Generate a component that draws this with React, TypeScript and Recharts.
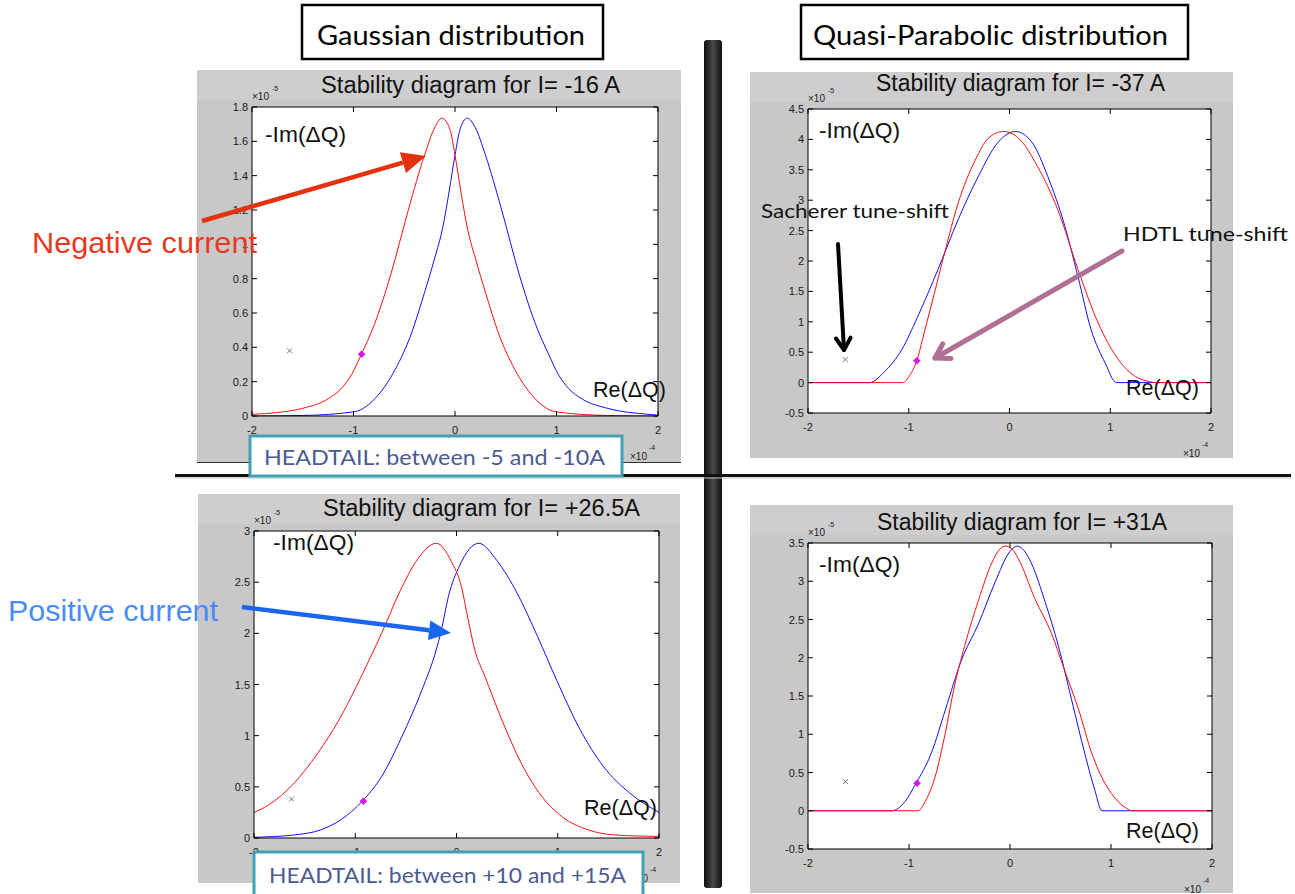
import React from 'react';
import {
  ComposedChart,
  Line,
  Scatter,
  XAxis,
  YAxis,
  CartesianGrid,
} from 'recharts';

// ---- data (Re in 1e-4, -Im in 1e-5) ----
const xTicks = [-2, -1, 0, 1, 2];

// Gaussian, I = -16 A
const g1RedX = [-2, -1.75, -1.5, -1.25, -1.12, -1.02, -0.93, -0.79, -0.63, -0.46, -0.3, -0.2, -0.13, -0.05, 0, 0.06, 0.12, 0.2, 0.3, 0.43, 0.59, 0.76, 0.99, 1.5, 2];
const g1RedY = [0.01, 0.02, 0.045, 0.1, 0.16, 0.24, 0.35, 0.54, 0.83, 1.2, 1.52, 1.68, 1.735, 1.67, 1.52, 1.3, 1.1, 0.92, 0.72, 0.48, 0.27, 0.12, 0.025, 0.003, 0];
const g1BlueX = [-2, -1.5, -0.99, -0.76, -0.59, -0.43, -0.3, -0.2, -0.12, -0.06, 0, 0.05, 0.12, 0.2, 0.3, 0.46, 0.63, 0.79, 0.93, 1.02, 1.12, 1.25, 1.5, 1.9, 2];
const g1BlueY = [0, 0.003, 0.025, 0.12, 0.27, 0.48, 0.72, 0.92, 1.1, 1.3, 1.52, 1.67, 1.735, 1.68, 1.52, 1.2, 0.83, 0.54, 0.35, 0.24, 0.16, 0.1, 0.045, 0.01, 0.005];
const g1YTicks = [0, 0.2, 0.4, 0.6, 0.8, 1, 1.2, 1.4, 1.6, 1.8];

// Quasi-parabolic, I = -37 A
const q1RedX = [-2, -1.06, -0.99, -0.92, -0.85, -0.77, -0.64, -0.51, -0.34, -0.21, -0.06, 0.09, 0.28, 0.48, 0.68, 0.88, 1.08, 1.25, 1.38, 1.45, 2];
const q1RedY = [0, 0, 0.12, 0.36, 0.8, 1.31, 2.16, 2.95, 3.66, 4.02, 4.13, 4.02, 3.55, 2.84, 1.86, 0.98, 0.38, 0.1, 0.02, 0, 0];
const q1BlueX = [-2, -1.39, -1.24, -1.07, -0.91, -0.71, -0.51, -0.31, -0.11, 0.06, 0.22, 0.38, 0.55, 0.68, 0.81, 0.95, 1.06, 2];
const q1BlueY = [0, 0, 0.18, 0.54, 1.09, 1.86, 2.68, 3.39, 3.96, 4.13, 3.96, 3.39, 2.57, 1.74, 0.87, 0.32, 0, 0];
const q1YTicks = [-0.5, 0, 0.5, 1, 1.5, 2, 2.5, 3, 3.5, 4, 4.5];

// Gaussian, I = +26.5 A
const g2RedX = [-2, -1.86, -1.6, -1.37, -1.14, -0.94, -0.74, -0.54, -0.38, -0.2, -0.05, 0.05, 0.11, 0.18, 0.28, 0.45, 0.64, 0.84, 1.04, 1.3, 1.56, 2];
const g2RedY = [0.25, 0.32, 0.54, 0.83, 1.19, 1.58, 2.0, 2.45, 2.73, 2.88, 2.7, 2.45, 2.16, 1.84, 1.58, 1.15, 0.73, 0.41, 0.21, 0.08, 0.03, 0.015];
const g2BlueX = [-2, -1.6, -1.34, -1.14, -0.93, -0.74, -0.54, -0.34, -0.2, -0.15, -0.08, 0.03, 0.22, 0.4, 0.6, 0.8, 0.99, 1.22, 1.45, 1.71, 2];
const g2BlueY = [0.007, 0.03, 0.08, 0.18, 0.36, 0.6, 0.99, 1.45, 1.84, 2.03, 2.36, 2.66, 2.88, 2.71, 2.39, 1.97, 1.54, 1.06, 0.7, 0.44, 0.25];
const g2YTicks = [0, 0.5, 1, 1.5, 2, 2.5, 3];

// Quasi-parabolic, I = +31 A
const q2RedX = [-2, -0.91, -0.84, -0.74, -0.64, -0.55, -0.45, -0.31, -0.18, -0.12, -0.05, 0.02, 0.08, 0.25, 0.41, 0.55, 0.68, 0.81, 0.94, 1.07, 1.17, 1.2, 2];
const q2RedY = [0, 0, 0.12, 0.45, 1.02, 1.63, 2.15, 2.76, 3.24, 3.39, 3.46, 3.42, 3.3, 2.76, 2.32, 1.8, 1.32, 0.75, 0.36, 0.12, 0.02, 0, 0];
const q2BlueX = [-2, -1.17, -1.04, -0.93, -0.78, -0.64, -0.48, -0.31, -0.15, 0.0, 0.07, 0.14, 0.21, 0.35, 0.48, 0.61, 0.74, 0.84, 0.91, 2];
const q2BlueY = [0, 0, 0.12, 0.36, 0.75, 1.32, 1.97, 2.45, 2.98, 3.39, 3.46, 3.4, 3.24, 2.72, 2.15, 1.45, 0.75, 0.27, 0, 0];
const q2YTicks = [-0.5, 0, 0.5, 1, 1.5, 2, 2.5, 3, 3.5];

// tune-shift markers (same in every panel)
const sachererX = [-1.63];
const sachererY = [0.38];
const hdtlX = [-0.92];
const hdtlY = [0.36];

const titles = ['Stability diagram for I=  -16 A', 'Stability diagram for I= -37 A', 'Stability diagram for I= +26.5A', 'Stability diagram for I= +31A'];

const pts = (xs: number[], ys: number[]) => xs.map((x, i) => ({ x, y: ys[i] }));

const GRAY = '#c8c8c8';
const HELV = "'Liberation Sans', Arial, sans-serif";
const GILL = "Lato, 'Open Sans', sans-serif";

const BottomTick = (p: any) => (
  <g>
    <line x1={p.x} y1={p.y} x2={p.x} y2={p.y - 5} stroke="#000" />
    <text x={p.x} y={p.y + 18} textAnchor="middle" fontSize={11} fontFamily={HELV} fill="#1a1a1a">
      {p.payload.value}
    </text>
  </g>
);
const LeftTick = (p: any) => (
  <g>
    <line x1={p.x} y1={p.y} x2={p.x + 5} y2={p.y} stroke="#000" />
    <text x={p.x - 4} y={p.y + 4} textAnchor="end" fontSize={11} fontFamily={HELV} fill="#1a1a1a">
      {p.payload.value}
    </text>
  </g>
);
const TopTick = (p: any) => <line x1={p.x} y1={p.y} x2={p.x} y2={p.y + 5} stroke="#000" />;
const RightTick = (p: any) => <line x1={p.x} y1={p.y} x2={p.x - 5} y2={p.y} stroke="#000" />;

const CrossMark = (p: any) => (
  <g stroke="#555" strokeWidth={0.8}>
    <line x1={p.cx - 2.5} y1={p.cy - 2.5} x2={p.cx + 2.5} y2={p.cy + 2.5} />
    <line x1={p.cx - 2.5} y1={p.cy + 2.5} x2={p.cx + 2.5} y2={p.cy - 2.5} />
  </g>
);
const DiamondMark = (p: any) => (
  <polygon
    points={`${p.cx},${p.cy - 3.5} ${p.cx + 3.5},${p.cy} ${p.cx},${p.cy + 3.5} ${p.cx - 3.5},${p.cy}`}
    fill="#e010f0"
    stroke="#9020c0"
    strokeWidth={0.5}
  />
);

interface Box { left: number; top: number; w: number; h: number }
interface Plot { left: number; top: number; right: number; bottom: number }

const layout: { box: Box; plot: Plot }[] = [
  { box: { left: 197, top: 70, w: 484, h: 392 }, plot: { left: 252, top: 107, right: 658, bottom: 416 } },
  { box: { left: 750, top: 72, w: 483, h: 386 }, plot: { left: 808, top: 109, right: 1211, bottom: 413 } },
  { box: { left: 198, top: 494, w: 482, h: 389 }, plot: { left: 254, top: 531, right: 659, bottom: 838 } },
  { box: { left: 750, top: 505, w: 483, h: 388 }, plot: { left: 808, top: 543, right: 1212, bottom: 849 } },
];

function Panel({ box, plot, yDomain, yTicks, red, blue }: {
  box: Box; plot: Plot; yDomain: [number, number]; yTicks: number[];
  red: { x: number; y: number }[]; blue: { x: number; y: number }[];
}) {
  // the four axes take up the whole gray border, so the white plot lands on `plot`
  const padTop = plot.top - box.top;
  const padLeft = plot.left - box.left;
  const padRight = box.left + box.w - plot.right;
  const padBottom = box.top + box.h - plot.bottom;
  return (
    <div style={{ position: 'absolute', left: box.left, top: box.top, width: box.w, height: box.h, background: GRAY }}>
      <div style={{ position: 'absolute', left: 0, top: 0, width: box.w, height: 30, background: '#cecece' }} />
      <div style={{ position: 'absolute', left: 0, top: 0 }}>
        <ComposedChart width={box.w} height={box.h} margin={{ top: 0, right: 0, bottom: 0, left: 0 }}>
          <CartesianGrid fill="#ffffff" horizontal={false} vertical={false} />
          <XAxis dataKey="x" type="number" domain={[-2, 2]} ticks={xTicks} interval={0} allowDataOverflow
            height={padBottom} tickSize={0} tickMargin={0} tick={BottomTick} axisLine={{ stroke: '#000' }} />
          <XAxis xAxisId="top" orientation="top" dataKey="x" type="number" domain={[-2, 2]} ticks={xTicks} interval={0}
            allowDataOverflow height={padTop} tickSize={0} tickMargin={0} tick={TopTick} axisLine={{ stroke: '#000' }} />
          <YAxis type="number" domain={yDomain} ticks={yTicks} interval={0} allowDataOverflow
            width={padLeft} tickSize={0} tickMargin={0} tick={LeftTick} axisLine={{ stroke: '#000' }} />
          <YAxis yAxisId="right" orientation="right" type="number" domain={yDomain} ticks={yTicks} interval={0}
            allowDataOverflow width={padRight} tickSize={0} tickMargin={0} tick={RightTick} axisLine={{ stroke: '#000' }} />
          <Line data={blue} dataKey="y" type="monotone" stroke="#1010ff" strokeWidth={1} dot={false} isAnimationActive={false} />
          <Line data={red} dataKey="y" type="monotone" stroke="#ff1010" strokeWidth={1} dot={false} isAnimationActive={false} />
          <Scatter data={pts(sachererX, sachererY)} dataKey="y" shape={CrossMark} isAnimationActive={false} />
          <Scatter data={pts(hdtlX, hdtlY)} dataKey="y" shape={DiamondMark} isAnimationActive={false} />
        </ComposedChart>
      </div>
    </div>
  );
}

function Arrow({ x1, y1, x2, y2, color, w, head, open }: {
  x1: number; y1: number; x2: number; y2: number; color: string; w: number; head: number; open?: boolean;
}) {
  const a = Math.atan2(y2 - y1, x2 - x1);
  const c = Math.cos(a);
  const s = Math.sin(a);
  if (open) {
    const spread = 0.55;
    const pA = [x2 - head * Math.cos(a - spread), y2 - head * Math.sin(a - spread)];
    const pB = [x2 - head * Math.cos(a + spread), y2 - head * Math.sin(a + spread)];
    return (
      <g stroke={color} strokeWidth={w} fill="none" strokeLinecap="round" strokeLinejoin="round">
        <line x1={x1} y1={y1} x2={x2} y2={y2} />
        <polyline points={`${pA[0]},${pA[1]} ${x2},${y2} ${pB[0]},${pB[1]}`} />
      </g>
    );
  }
  const bx = x2 - head * c;
  const by = y2 - head * s;
  const hw = head * 0.45;
  return (
    <g>
      <line x1={x1} y1={y1} x2={bx} y2={by} stroke={color} strokeWidth={w} />
      <polygon points={`${x2},${y2} ${bx - hw * s},${by + hw * c} ${bx + hw * s},${by - hw * c}`} fill={color} />
    </g>
  );
}

const panelText = [
  { tx: 321, ty: 93, tl: 299, ix: 265, iy: 142, rx: 593, ry: 397 },
  { tx: 876, ty: 91, tl: 289, ix: 819, iy: 138, rx: 1126, ry: 395 },
  { tx: 323, ty: 516, tl: 317, ix: 273, iy: 550, rx: 584, ry: 815 },
  { tx: 877, ty: 530, tl: 290, ix: 819, iy: 572, rx: 1126, ry: 838 },
];

export default function App() {
  const series = [
    { red: pts(g1RedX, g1RedY), blue: pts(g1BlueX, g1BlueY), dom: [0, 1.8] as [number, number], ticks: g1YTicks },
    { red: pts(q1RedX, q1RedY), blue: pts(q1BlueX, q1BlueY), dom: [-0.5, 4.5] as [number, number], ticks: q1YTicks },
    { red: pts(g2RedX, g2RedY), blue: pts(g2BlueX, g2BlueY), dom: [0, 3] as [number, number], ticks: g2YTicks },
    { red: pts(q2RedX, q2RedY), blue: pts(q2BlueX, q2BlueY), dom: [-0.5, 3.5] as [number, number], ticks: q2YTicks },
  ];

  return (
    <div style={{ position: 'absolute', left: 0, top: 0, width: 1295, height: 894, background: '#fff', overflow: 'hidden' }}>
      {series.map((s, i) => (
        <Panel key={i} box={layout[i].box} plot={layout[i].plot} yDomain={s.dom} yTicks={s.ticks} red={s.red} blue={s.blue} />
      ))}

      <svg width={1295} height={894} style={{ position: 'absolute', left: 0, top: 0, pointerEvents: 'none' }}>
        <defs>
          <linearGradient id="bar" x1="0" x2="1" y1="0" y2="0">
            <stop offset="0" stopColor="#0e0e0e" />
            <stop offset="0.5" stopColor="#4a4a4a" />
            <stop offset="1" stopColor="#0e0e0e" />
          </linearGradient>
        </defs>

        {/* panel titles and axis words */}
        {panelText.map((t, i) => {
          const p = layout[i].plot;
          return (
            <g key={i} fontFamily={HELV} fill="#111">
              <text x={t.tx} y={t.ty} fontSize={23} textLength={t.tl} lengthAdjust="spacingAndGlyphs">{titles[i]}</text>
              <text x={t.ix} y={t.iy} fontSize={22} textLength={81} lengthAdjust="spacingAndGlyphs">-Im(ΔQ)</text>
              <text x={t.rx} y={t.ry} fontSize={22} textLength={73} lengthAdjust="spacingAndGlyphs">Re(ΔQ)</text>
              <text x={p.left} y={p.top - 7} fontSize={10} fill="#222">×10</text>
              <text x={p.left + 20} y={p.top - 16} fontSize={7} fill="#222">-5</text>
              <text x={p.right - 11} y={p.bottom + 44} fontSize={10} fill="#222" textAnchor="end">×10</text>
              <text x={p.right - 9} y={p.bottom + 34} fontSize={7} fill="#222">-4</text>
            </g>
          );
        })}
        <line x1={197} y1={462.5} x2={681} y2={462.5} stroke="#333" strokeWidth={1} />

        {/* column headers */}
        <rect x={302} y={5} width={301} height={54} fill="#fff" stroke="#000" strokeWidth={2.5} />
        <text x={317} y={45} fontSize={27} fontFamily={GILL} fill="#000" textLength={268} lengthAdjust="spacingAndGlyphs">Gaussian distribution</text>
        <rect x={801} y={5} width={387} height={54} fill="#fff" stroke="#000" strokeWidth={2.5} />
        <text x={813} y={45} fontSize={27} fontFamily={GILL} fill="#000" textLength={355} lengthAdjust="spacingAndGlyphs">Quasi-Parabolic distribution</text>

        {/* separators */}
        <rect x={704} y={40} width={18} height={848} rx={3} fill="url(#bar)" />
        <rect x={175} y={474} width={1116} height={3} fill="#111" />
        <rect x={175} y={477} width={1116} height={2} fill="#bbb" opacity={0.5} />

        {/* HEADTAIL boxes */}
        <rect x={250} y={436} width={372} height={40} fill="#fff" stroke="#43a0b4" strokeWidth={3} />
        <text x={264} y={465} fontSize={21} fontFamily={GILL} fill="#4b5b92" textLength={341} lengthAdjust="spacingAndGlyphs">HEADTAIL: between  -5 and -10A</text>
        <rect x={254} y={852} width={389} height={50} fill="#fff" stroke="#43a0b4" strokeWidth={3} />
        <text x={269} y={883} fontSize={21} fontFamily={GILL} fill="#4b5b92" textLength={357} lengthAdjust="spacingAndGlyphs">HEADTAIL: between +10 and +15A</text>

        {/* current annotations */}
        <text x={32} y={253} fontSize={29} fontFamily={HELV} fontWeight={300} fill="#e8391c" textLength={225} lengthAdjust="spacingAndGlyphs">Negative current</text>
        <Arrow x1={202} y1={221} x2={426} y2={156} color="#e5320e" w={4.5} head={24} />
        <text x={8} y={621} fontSize={29} fontFamily={HELV} fontWeight={300} fill="#4a8bf5" textLength={210} lengthAdjust="spacingAndGlyphs">Positive current</text>
        <Arrow x1={242} y1={607} x2={451} y2={633} color="#1a66f0" w={4.5} head={22} />

        {/* tune-shift annotations */}
        <text x={761} y={218} fontSize={20} fontFamily={GILL} fill="#111" textLength={188} lengthAdjust="spacingAndGlyphs">Sacherer tune-shift</text>
        <Arrow x1={838} y1={244} x2={844} y2={350} color="#000" w={4} head={14} open />
        <text x={1123} y={241} fontSize={20} fontFamily={GILL} fill="#111" textLength={165} lengthAdjust="spacingAndGlyphs">HDTL tune-shift</text>
        <Arrow x1={1122} y1={251} x2={935} y2={358} color="#b07095" w={5} head={16} open />
      </svg>
    </div>
  );
}
